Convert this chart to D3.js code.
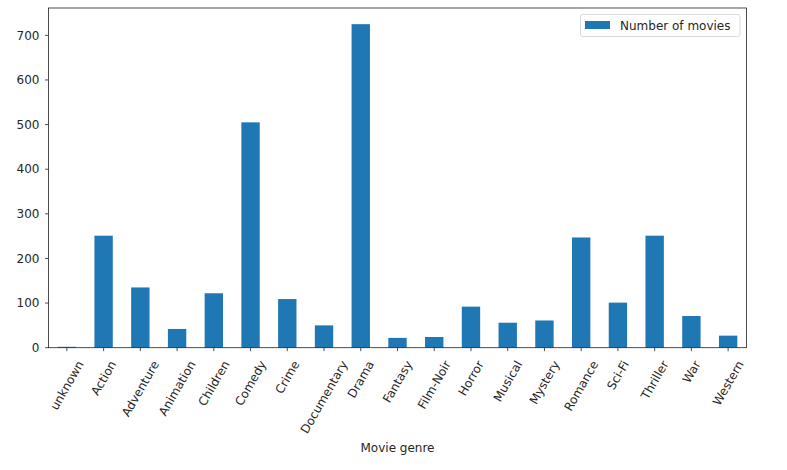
<!DOCTYPE html>
<html>
<head>
<meta charset="utf-8">
<script src="https://cdn.jsdelivr.net/npm/d3@7"></script>
<style>
  body { margin: 0; background: #fff; }
  text { font-family: "DejaVu Sans", sans-serif; fill: #262626; }
</style>
</head>
<body>
<svg id="chart" width="787" height="470"></svg>
<script>
var genres = ["unknown","Action","Adventure","Animation","Children","Comedy","Crime","Documentary","Drama","Fantasy","Film-Noir","Horror","Musical","Mystery","Romance","Sci-Fi","Thriller","War","Western"]
var counts = [2,251,135,42,122,505,109,50,725,22,24,92,56,61,247,101,251,71,27]
var yTicks = [0,100,200,300,400,500,600,700]
var seriesName = "Number of movies"
var xTitle = "Movie genre"

var padL = 48.5, padR = 746.5, padT = 8, padB = 347.7
var fontSize = 12
var svg = d3.select("#chart")

// pandas bar: band of 1 per category, bar width 0.5
var x = d3.scaleLinear().domain([-0.5, genres.length - 0.5]).range([padL, padR])
var y = d3.scaleLinear().domain([0, d3.max(counts) * 1.05]).range([padB, padT])

svg.append("g").selectAll("rect")
  .data(counts)
  .enter().append("rect")
  .attr("x", function(d,i){ return x(i - 0.25) })
  .attr("width", function(d,i){ return x(i + 0.25) - x(i - 0.25) })
  .attr("y", function(d){ return y(d) })
  .attr("height", function(d){ return y(0) - y(d) })
  .attr("fill", "#1f77b4")

// y axis
var yAxis = svg.append("g")
yAxis.selectAll("line").data(yTicks).enter().append("line")
  .attr("x1", padL - 3.5).attr("x2", padL)
  .attr("y1", function(d){ return y(d) }).attr("y2", function(d){ return y(d) })
  .attr("stroke", "#222").attr("stroke-width", 0.8)
yAxis.selectAll("text").data(yTicks).enter().append("text")
  .attr("x", padL - 9).attr("y", function(d){ return y(d) })
  .attr("dy", "0.35em").attr("text-anchor", "end")
  .style("font-size", fontSize + "px")
  .text(function(d){ return d })

// x axis ticks + rotated labels (bbox centred under tick, like matplotlib rot=60)
var xAxis = svg.append("g")
xAxis.selectAll("line").data(genres).enter().append("line")
  .attr("x1", function(d,i){ return x(i) }).attr("x2", function(d,i){ return x(i) })
  .attr("y1", padB).attr("y2", padB + 3.5)
  .attr("stroke", "#222").attr("stroke-width", 0.8)
var labelTop = padB + 11
xAxis.selectAll("text").data(genres).enter().append("text")
  .attr("text-anchor", "end")
  .attr("dy", "0.35em")
  .style("font-size", fontSize + "px")
  .text(function(d){ return d })
  .each(function(d,i){
    var L = this.getComputedTextLength()
    var h = fontSize
    var ex = x(i) + L * 0.25
    var ey = labelTop + h * 0.25
    d3.select(this).attr("transform", "translate(" + ex + "," + ey + ") rotate(-60)")
  })

// frame
svg.append("rect")
  .attr("x", padL).attr("y", padT)
  .attr("width", padR - padL).attr("height", padB - padT)
  .attr("fill", "none").attr("stroke", "#222").attr("stroke-width", 0.8)

svg.append("text")
  .attr("x", (padL + padR) / 2).attr("y", 452)
  .attr("text-anchor", "middle")
  .style("font-size", fontSize + "px")
  .text(xTitle)

// legend
var lg = svg.append("g")
lg.append("rect")
  .attr("x", 580.5).attr("y", 14.5).attr("width", 159.5).attr("height", 22)
  .attr("rx", 2.5).attr("fill", "#fff").attr("stroke", "#d0d0d0").attr("stroke-width", 0.8)
lg.append("rect")
  .attr("x", 585).attr("y", 21).attr("width", 25).attr("height", 8)
  .attr("fill", "#1f77b4")
lg.append("text")
  .attr("x", 620).attr("y", 25.5).attr("dy", "0.35em")
  .style("font-size", fontSize + "px")
  .text(seriesName)
</script>
</body>
</html>
